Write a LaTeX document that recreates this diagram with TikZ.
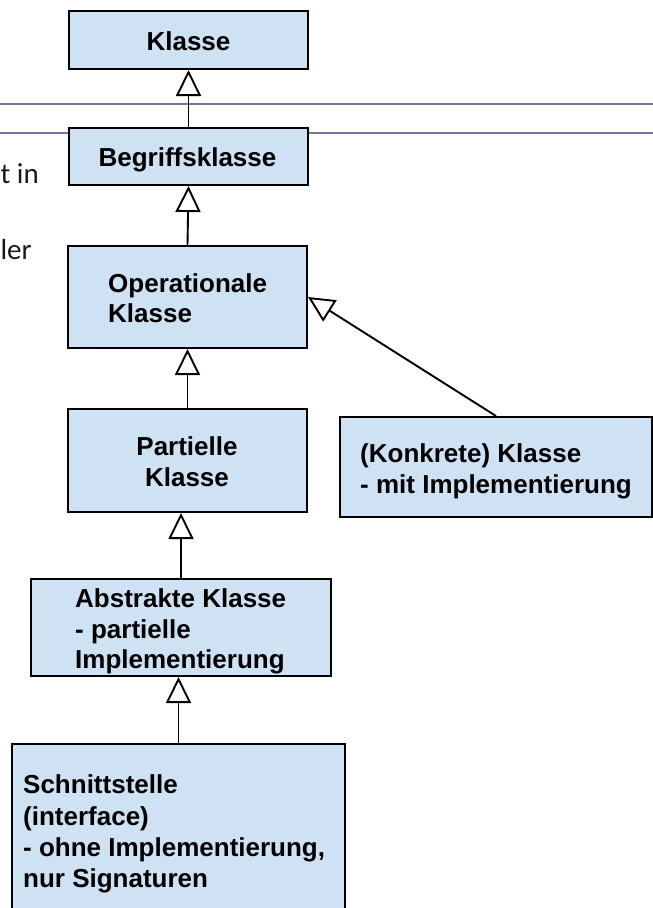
\documentclass[tikz,border=0pt]{standalone}
\usepackage{fontspec}
\setmainfont{Liberation Sans}
\newfontfamily\sidefont{Carlito}
\usetikzlibrary{arrows.meta}
\definecolor{boxfill}{HTML}{CFE2F3}
\definecolor{rulecol}{RGB}{112,120,156}
\begin{document}
\begin{tikzpicture}[x=1pt,y=1pt,
  box/.style={draw=black, line width=2pt, fill=boxfill, inner sep=0pt, rectangle},
  lbl/.style={font=\fontsize{26}{31}\selectfont\bfseries, inner sep=0pt},
  gen/.style={line width=1.9pt, -{Triangle[length=26pt,width=25pt,fill=white]}},
  rule/.style={draw=rulecol, line width=2.2pt}]
\useasboundingbox (0,0) rectangle (653,-908);
% horizontal rules
\coordinate (r1a) at (0,-104);
\coordinate (r1b) at (653,-104);
\coordinate (r2a) at (0,-133);
\coordinate (r2b) at (653,-133);
\draw[rule] (r1a) -- (r1b);
\draw[rule] (r2a) -- (r2b);
% side text fragments
\node[anchor=base east, inner sep=0pt, font=\sidefont\fontsize{29}{32}\selectfont, text=black!90] (s1) at (39,-183) {t in};
\node[anchor=base east, inner sep=0pt, font=\sidefont\fontsize{29}{32}\selectfont, text=black!90] (s2) at (32,-259) {ler};
% boxes
\node[box, minimum width=239pt, minimum height=58pt] (k) at (188.5,-40) {};
\node[box, minimum width=239pt, minimum height=57pt] (b) at (188.5,-156.5) {};
\node[box, minimum width=239pt, minimum height=102pt] (o) at (187.5,-297) {};
\node[box, minimum width=239pt, minimum height=103pt] (p) at (187.5,-460.5) {};
\node[box, minimum width=312pt, minimum height=100pt] (kk) at (496,-467) {};
\node[box, minimum width=300pt, minimum height=97pt] (a) at (181,-627.5) {};
\node[box, minimum width=333pt, minimum height=196pt] (s) at (178.5,-842) {};
% texts
\node[lbl, anchor=base] (tk) at (188.5,-50) {Klasse};
\node[lbl, anchor=base] (tb) at (187.5,-166) {Begriffsklasse};
\node[lbl, anchor=base west] (to1) at (108,-292) {Operationale};
\node[lbl, anchor=base west] (to2) at (108,-322) {Klasse};
\node[lbl, anchor=base] (tp1) at (187,-455) {Partielle};
\node[lbl, anchor=base] (tp2) at (187,-486) {Klasse};
\node[lbl, anchor=base west] (tkk1) at (360,-462) {(Konkrete) Klasse};
\node[lbl, anchor=base west] (tkk2) at (360,-493) {- mit Implementierung};
\node[lbl, anchor=base west] (ta1) at (75,-607) {Abstrakte Klasse};
\node[lbl, anchor=base west] (ta2) at (75,-638) {- partielle};
\node[lbl, anchor=base west] (ta3) at (75,-668) {Implementierung};
\node[lbl, anchor=base west] (ts1) at (23,-793) {Schnittstelle};
\node[lbl, anchor=base west] (ts2) at (23,-825) {(interface)};
\node[lbl, anchor=base west] (ts3) at (23,-856) {- ohne Implementierung,};
\node[lbl, anchor=base west] (ts4) at (23,-887) {nur Signaturen};
% generalisations
\draw[gen] (b.north) -- (k.south);
\draw[gen] (o.north) -- (b.south);
\draw[gen] (p.north) -- (o.south);
\draw[gen] (kk.north) -- (o.east);
\draw[gen] (a.north) -- (a.north |- p.south);
\draw[gen] (s.north) -- (s.north |- a.south);
\end{tikzpicture}
\end{document}
